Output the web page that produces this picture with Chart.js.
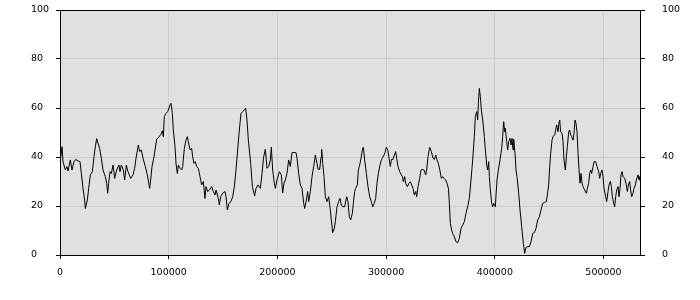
<!DOCTYPE html>
<html>
<head>
<meta charset="utf-8">
<script src="https://cdn.jsdelivr.net/npm/chart.js@4/dist/chart.umd.min.js"></script>
<style>
  body { margin: 0; background: #fff; }
  #wrap { width: 700px; height: 300px; }
</style>
</head>
<body>
<div id="wrap"><canvas id="myChart" width="700" height="300"></canvas></div>
<script>
// x positions of the samples
var Xs = [
  0, 1840, 2760, 4900, 6440, 7360, 9500, 11040, 12880, 14410, 16560, 18400, 19630, 21160, 22690, 23310,
  25150, 26380, 27910, 29750, 31280, 32510, 33730, 34960, 36490, 38020, 39560, 41700, 42930, 43850, 44770,
  46000, 47230, 48760, 50290, 52130, 54280, 55200, 56430, 58270, 59490, 61030, 62560, 65010, 67160, 68690,
  69920, 72060, 73290, 74830, 76360, 78510, 80350, 82490, 83410, 84640, 86480,
  88930, 90470, 92920, 94150, 95070, 95990, 97520, 99050, 101200, 102120, 103350, 104270, 105800, 106720,
  107950, 108870, 110400, 111930, 112850, 114390, 115920, 117150, 118070, 119600, 121130, 122050, 123280,
  124510, 125730, 127270, 128800, 130330, 131870, 133400, 134320, 135850, 137390, 139530, 141070, 142600,
  143520, 145670, 146590, 147810, 149650, 151800, 152720, 153950, 155480, 157320, 158850, 160390, 161920,
  163450, 164990, 166520, 168050, 169590, 170820, 172040, 173270, 175420,
  177000, 179090, 180320, 182160, 184330, 185840, 187370, 188900, 190440, 191970, 193500, 194420, 195650,
  197180, 198100, 199640, 201780, 203620, 204850, 206080, 207310, 208840, 210370, 211900, 213440, 215580,
  217120, 218040, 219570, 221100, 222640, 224170, 225090, 226620, 227850, 228770, 230300, 231840, 233370,
  234900, 236440, 237360, 238890, 240120, 240730, 241650, 242880, 244110, 245640, 247170, 248700, 249620,
  250850, 252380, 253300, 254840, 256370, 257600, 258830, 260060, 261900, 263740, 264960,
  266190, 267410, 268940, 269860, 271090, 272010, 273540, 274460, 275690, 276920, 278150, 279070, 280300,
  281830, 283360, 284890, 286420, 287650, 289180, 290410, 291640, 292870, 294400, 295630, 296550, 298080,
  299000, 300230, 301760, 302680, 303910, 304830, 306360, 307590, 308820, 309740, 310970, 312500, 314030,
  314950, 315870, 317100, 318020, 319550, 321080, 322310, 323540, 324760, 325990, 327220, 328140, 329370,
  330900, 332130, 333350, 334880, 336410, 337330, 338560, 340090, 341620, 343160, 344380, 345610, 346840,
  348070, 349300, 350830, 352060, 353280, 354810, 356040, 357400,
  358180, 359100, 360330, 361250, 362780, 364320, 365850, 367380, 368920, 370450, 371980, 373520, 375050,
  376580, 378120, 379650, 381180, 382100, 383330, 384250, 384870, 385790, 386710, 387630, 388860, 390390,
  391310, 392540, 393460, 394380, 394990, 395910, 397140, 398060, 398980, 400510, 401120, 402040, 403270,
  404800, 406330, 407250, 408170, 409090, 409700, 410930, 411850, 412770, 414000, 414920, 415840, 416760,
  417370, 418600, 419520, 420440, 421970, 423200, 424730, 426260, 427490, 428720, 430250, 431780, 433320,
  434850, 436380, 437920, 439450, 440980, 442520, 444050, 445700,
  447420, 448340, 449570, 450490, 451410, 452640, 453560, 455090, 456010, 456930, 458160, 459080, 459690,
  460610, 461840, 462760, 463680, 464910, 465830, 466750, 467980, 468900, 469820, 470740, 471960, 472880,
  473800, 474720, 475640, 476560, 477480, 478400, 479320, 480240, 481160, 482690, 484220, 485140, 486370,
  487290, 488210, 489130, 490360, 491280, 492810, 494040, 495570, 496490, 497410, 498640, 499560, 500480,
  502010, 502930, 504160, 505080, 506310, 507230, 508150, 509380, 510300, 511220, 512140, 513360, 514280,
  515200, 516120, 517040, 517960, 519490, 521020, 521940, 522860, 524090, 525010, 525930, 527160, 528080,
  529310, 530230, 531760, 532680, 533290, 534500
];

// values
var Values = [
  37.4, 44.2, 38.1, 34.7, 36.1, 34.3, 38.8, 34.7, 38.1, 39.0, 38.4, 38.1, 33.3, 27.2, 22.4, 19.0,
  22.4, 27.2, 32.7, 34.0, 40.1, 44.2, 47.5, 45.6, 43.5, 39.5, 34.7, 32.0, 29.3, 25.2, 29.3,
  34.0, 33.3, 36.7, 31.3, 34.7, 36.7, 34.0, 36.7, 34.7, 30.6, 36.7, 34.0, 31.3, 32.7, 35.4,
  39.5, 44.9, 42.2, 42.9, 39.5, 36.1, 32.7, 27.2, 30.6, 36.1, 40.1,
  47.3, 47.9, 49.3, 50.7, 48.3, 56.5, 57.8, 58.5, 61.2, 61.9, 57.8, 51.0, 44.2, 37.4,
  33.3, 36.7, 35.4, 34.7, 36.1, 43.5, 46.9, 48.3, 46.3, 42.9, 43.5, 40.1, 37.4,
  38.1, 36.1, 35.4, 32.0, 28.6, 30.0, 23.1, 27.9, 25.9, 26.5, 27.9, 25.9, 24.5,
  26.5, 23.1, 20.4, 23.8, 25.2, 25.9, 23.8, 18.4, 21.1, 21.8, 23.8, 27.9, 34.7,
  42.9, 51.0, 57.8, 58.5, 59.2, 59.9, 55.1, 46.9, 37.4,
  27.9, 24.1, 27.2, 28.6, 27.2, 33.3, 40.1, 43.1, 35.4, 36.1, 38.8, 44.0, 34.7,
  29.3, 27.2, 30.6, 34.0, 32.7, 25.4, 29.3, 30.6, 33.3, 38.8, 36.1, 41.8, 41.8,
  41.8, 39.5, 33.3, 28.6, 27.2, 21.1, 19.0, 22.4, 25.9, 21.8, 25.9, 32.0, 36.1,
  40.8, 37.4, 35.0, 35.0, 39.9, 43.1, 37.4, 32.0, 23.8, 21.8, 23.8, 18.4, 14.3,
  9.1, 10.9, 13.6, 19.7, 21.8, 23.1, 20.4, 19.7, 19.7, 23.8, 21.8,
  15.6, 14.3, 17.0, 21.1, 25.9, 27.2, 28.6, 34.7, 36.7, 39.5, 42.9, 44.0, 38.8,
  33.3, 27.9, 23.8, 21.8, 19.7, 21.1, 23.1, 29.3, 33.3, 36.7, 38.8, 39.5, 40.8,
  41.8, 44.0, 42.6, 39.5, 36.1, 39.0, 39.0, 40.8, 42.2, 39.5, 36.1, 34.0, 32.7,
  32.0, 29.9, 32.0, 29.3, 27.9, 29.3, 29.9, 28.6, 27.2, 24.5, 25.9, 23.8, 27.9,
  31.3, 34.7, 34.9, 34.7, 32.7, 34.7, 40.1, 44.0, 42.2, 39.5, 39.0, 40.8, 38.8,
  37.4, 35.0, 31.3, 32.0, 31.3, 30.6, 29.3, 27.0,
  21.1, 12.9, 10.2, 8.8, 7.5, 5.4, 5.0, 6.8, 10.9, 12.2, 13.6, 17.0, 19.7,
  23.1, 30.6, 38.8, 48.3, 56.5, 58.5, 55.1, 61.9, 68.0, 64.6, 59.2, 55.1, 48.3,
  42.9, 36.7, 34.7, 38.1, 32.0, 26.5, 21.1, 19.7, 21.1, 19.7, 24.5, 30.6, 34.7,
  38.8, 43.5, 48.3, 54.4, 50.3, 51.7, 46.3, 42.9, 46.3, 47.6, 44.9, 47.6, 42.9,
  47.3, 41.5, 34.7, 32.0, 25.2, 18.4, 11.6, 4.8, 0.7, 3.1, 3.4, 3.4, 5.4,
  8.8, 9.1, 10.9, 14.3, 15.6, 18.4, 21.1, 21.5,
  21.8, 24.5, 28.6, 36.1, 41.5, 46.9, 48.3, 49.0, 51.0, 53.1, 50.3, 54.4, 55.1,
  50.3, 49.7, 46.3, 38.8, 34.7, 40.1, 44.2, 50.3, 51.0, 49.0, 48.3, 46.9, 49.7,
  55.1, 53.7, 50.3, 41.5, 34.7, 29.3, 33.3, 29.3, 27.9, 26.5, 25.2, 27.2, 29.3,
  33.3, 34.7, 33.3, 36.1, 38.1, 38.1, 36.1, 34.0, 31.3, 33.3, 34.7, 32.0, 27.2,
  23.8, 21.8, 25.9, 28.6, 30.0, 27.9, 23.8, 21.1, 19.7, 23.8, 26.5, 27.9, 23.8,
  27.2, 32.7, 34.0, 32.0, 31.3, 28.6, 25.9, 28.6, 30.0, 26.5, 23.8, 25.2, 27.2,
  28.6, 30.6, 32.7, 30.6, 32.0, 30.8
];

var XMax = 534500;
var XTicks = [0, 100000, 200000, 300000, 400000, 500000];
var YTicks = [0, 20, 40, 60, 80, 100];

var points = Xs.map(function (x, i) { return { x: x, y: Values[i] }; });

var tickFont = { family: 'DejaVu Sans', size: 9.5 };
var gridColor = '#cdcdcd';

function fixedTicks(list) {
    return function (scale) {
        scale.ticks = list.map(function (v) { return { value: v }; });
    };
}

function plainLabel(value) {
    return String(value);
}

// grey plot background and black frame
const plotFrame = {
    id: 'plotFrame',
    beforeDraw(chart) {
        const a = chart.chartArea;
        const c = chart.ctx;
        c.save();
        c.fillStyle = '#e0e0e0';
        c.fillRect(a.left, a.top, a.right - a.left, a.bottom - a.top);
        c.restore();
    },
    afterDraw(chart) {
        const a = chart.chartArea;
        const c = chart.ctx;
        c.save();
        c.strokeStyle = '#000';
        c.lineWidth = 1;
        c.strokeRect(Math.round(a.left) + 0.5, Math.round(a.top) + 0.5,
            Math.round(a.right - a.left) - 1, Math.round(a.bottom - a.top));
        c.restore();
    }
};

const ctx = document.getElementById('myChart');
const myChart = new Chart(ctx, {
    type: 'line',
    data: {
        datasets: [{
            data: points,
            borderColor: '#000',
            borderWidth: 1,
            pointRadius: 0,
            tension: 0,
            fill: false,
            yAxisID: 'y'
        }]
    },
    options: {
        responsive: false,
        animation: false,
        events: [],
        layout: { padding: { left: 31, right: 0, top: 10, bottom: 0 } },
        plugins: { legend: { display: false }, tooltip: { enabled: false } },
        scales: {
            x: {
                type: 'linear',
                min: 0,
                max: XMax,
                border: { display: false },
                grid: { color: gridColor, tickColor: '#000', tickLength: 4 },
                ticks: { font: tickFont, color: '#000', padding: 8, maxRotation: 0, autoSkip: false, callback: plainLabel },
                afterBuildTicks: fixedTicks(XTicks),
                afterFit: function (scale) {
                    scale.height = 45;
                    scale.paddingLeft = 0;
                    scale.paddingRight = 0;
                }
            },
            y: {
                position: 'left',
                min: 0,
                max: 100,
                border: { display: false },
                grid: { color: gridColor, tickColor: '#000', tickLength: 4 },
                ticks: { font: tickFont, color: '#000', crossAlign: 'far', padding: 3, autoSkip: false, callback: plainLabel },
                afterBuildTicks: fixedTicks(YTicks),
                afterFit: function (scale) {
                    scale.width = 29;
                    scale.paddingTop = 0;
                    scale.paddingBottom = 0;
                }
            },
            y2: {
                position: 'right',
                min: 0,
                max: 100,
                border: { display: false },
                grid: { drawOnChartArea: false, tickColor: '#000', tickLength: 4 },
                ticks: { font: tickFont, color: '#000', padding: 17, autoSkip: false, callback: plainLabel },
                afterBuildTicks: fixedTicks(YTicks),
                afterFit: function (scale) {
                    scale.width = 59;
                    scale.paddingTop = 0;
                    scale.paddingBottom = 0;
                }
            }
        }
    },
    plugins: [plotFrame]
});
</script>
</body>
</html>
